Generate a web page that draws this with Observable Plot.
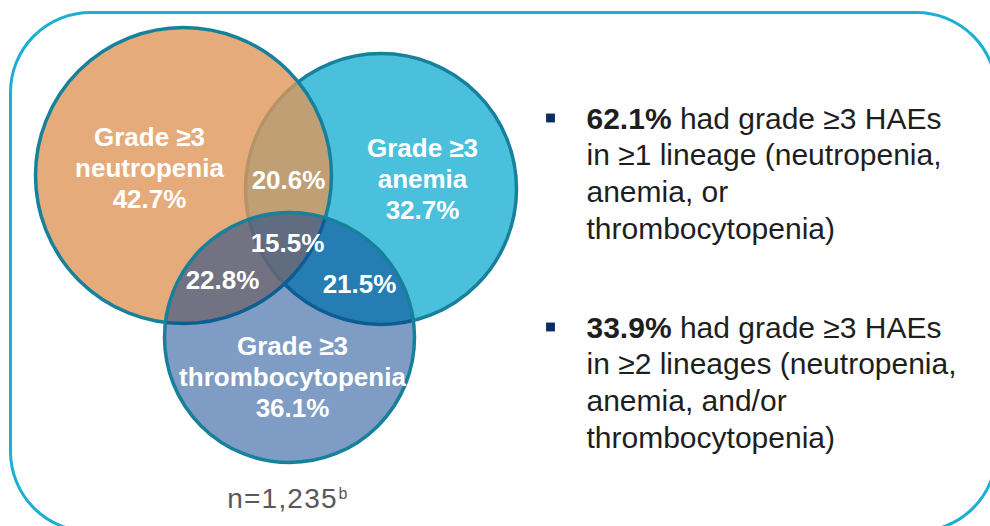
<!DOCTYPE html>
<html><head><meta charset="utf-8">
<script src="https://cdn.jsdelivr.net/npm/d3@7"></script>
<script src="https://cdn.jsdelivr.net/npm/@observablehq/plot@0.6"></script>
<style>
html,body{margin:0;padding:0;background:#fff;}
#chart{width:990px;height:526px;overflow:hidden;}
</style>
</head><body><div id="chart"></div>
<script>
// ---- data ----
const sets = ["Grade ≥3\nneutropenia", "Grade ≥3\nanemia", "Grade ≥3\nthrombocytopenia"];
const setPct = [42.7, 32.7, 36.1];
const setCx = [183, 380.5, 289];
const setCy = [175, 188.5, 337];
const setR = [148, 135.5, 125];
const drawOrder = [1, 0, 2];
const overlaps = ["neutropenia ∩ anemia", "all three", "neutropenia ∩ thrombocytopenia", "anemia ∩ thrombocytopenia"];
const overlapPct = [20.6, 15.5, 22.8, 21.5];
const overlapX = [288, 287, 222, 359];
const overlapY = [188, 251, 288, 292];
const labelX = [149, 422, 292];
const labelY = [207, 218, 416];
const summaryPct = ["62.1%", "33.9%"];
const summaryText = [
  " had grade ≥3 HAEs\nin ≥1 lineage (neutropenia,\nanemia, or\nthrombocytopenia)",
  " had grade ≥3 HAEs\nin ≥2 lineages (neutropenia,\nanemia, and/or\nthrombocytopenia)"
];
const summaryY = [238, 447];
const sampleN = "n=1,235";
const sampleNote = "b";

// ---- styles ----
const setFill = ["#de965a", "#4bc0dd", "#00398a"];
const setOpacity = [0.8, 1, 0.5];
const edge = "#17819b";
const font = "'Liberation Sans', Arial, sans-serif";

const circleMarks = drawOrder.map(i => Plot.dot([i], {
  x: d => setCx[d], y: d => setCy[d], r: d => setR[d],
  fill: setFill[i], fillOpacity: setOpacity[i],
  stroke: edge, strokeWidth: 3.5, sort: null
}));

const plot = Plot.plot({
  width: 990, height: 526,
  marginTop: 0, marginRight: 0, marginBottom: 0, marginLeft: 0,
  x: {domain: [0, 990], range: [0, 990], axis: null},
  y: {domain: [0, 526], range: [0, 526], axis: null},
  r: {type: "identity"},
  style: {fontFamily: font, background: "white", overflow: "visible"},
  marks: [
    Plot.frame({stroke: "#1aafd3", strokeWidth: 3, rx: 80, ry: 80,
      insetLeft: 10, insetTop: 12, insetRight: -6, insetBottom: -5}),
    ...circleMarks,
    Plot.text(d3.range(sets.length), {
      x: i => labelX[i], y: i => labelY[i],
      text: i => `${sets[i]}\n${setPct[i]}%`,
      lineAnchor: "bottom", lineHeight: 1.19,
      fill: "white", fontSize: 26, fontWeight: "bold"
    }),
    Plot.text(d3.range(overlaps.length), {
      x: i => overlapX[i], y: i => overlapY[i],
      text: i => `${overlapPct[i]}%`,
      lineAnchor: "bottom", fill: "white", fontSize: 26, fontWeight: "bold"
    }),
    Plot.dot(d3.range(summaryPct.length), {
      x: 550, y: i => summaryY[i] - 3 * 36.67 - 10.5,
      symbol: "square", r: 5, fill: "#0b2d63"
    }),
    Plot.text(d3.range(summaryPct.length), {
      x: 586, y: i => summaryY[i],
      text: i => summaryPct[i] + summaryText[i],
      textAnchor: "start", lineAnchor: "bottom", lineHeight: 1.222,
      fill: "#1e1e1e", fontSize: 30
    }),
    Plot.text([sampleN], {x: 282, y: 507, text: d => d, lineAnchor: "bottom",
      fill: "#595959", fontSize: 28}),
    Plot.text([sampleNote], {x: 338, y: 498, text: d => d, textAnchor: "start",
      lineAnchor: "bottom", fill: "#595959", fontSize: 16})
  ]
});

// bold the leading percentage in each summary bullet
const ns = "http://www.w3.org/2000/svg";
plot.querySelectorAll("text tspan").forEach(first => {
  const s = first.textContent;
  const pct = summaryPct.find(p => s.startsWith(p + " "));
  if (!pct) return;
  first.textContent = "";
  const b = document.createElementNS(ns, "tspan");
  b.setAttribute("font-weight", "bold");
  b.textContent = pct;
  first.appendChild(b);
  first.appendChild(document.createTextNode(s.slice(pct.length)));
});
// slightly widened sample-size label, as in the original
plot.querySelectorAll("text").forEach(t => {
  if (t.textContent === sampleN) t.setAttribute("letter-spacing", "1.2");
});

document.getElementById("chart").appendChild(plot);
</script>
</body></html>
